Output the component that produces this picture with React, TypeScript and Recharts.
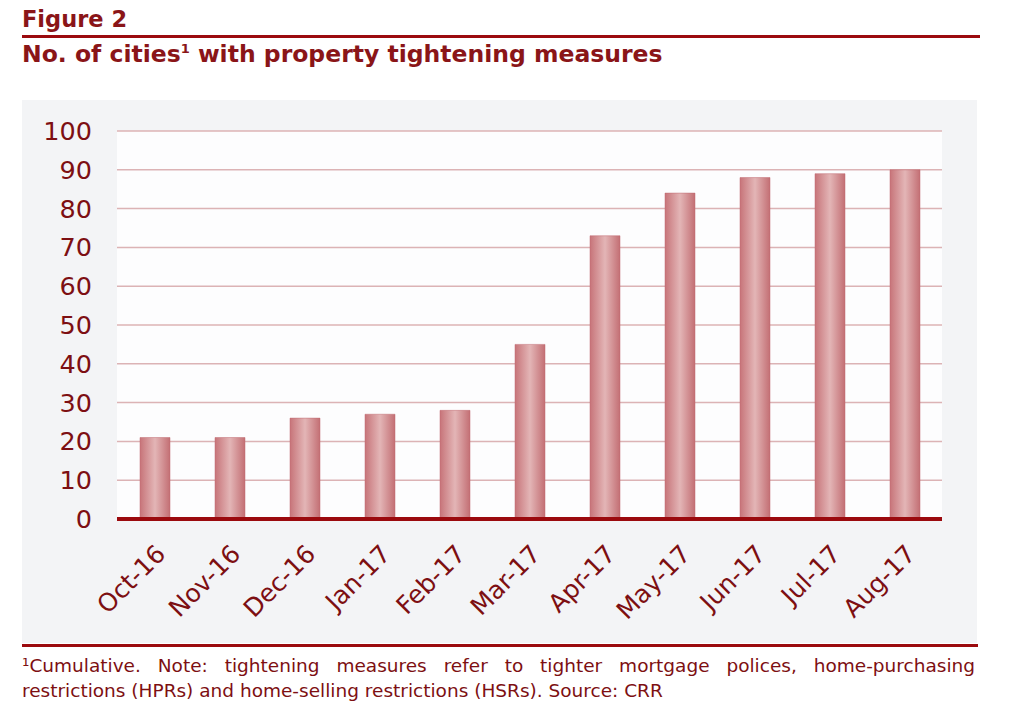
import { BarChart, Bar, XAxis, YAxis, CartesianGrid, ReferenceLine } from 'recharts';

const MONTHS = ['Oct-16', 'Nov-16', 'Dec-16', 'Jan-17', 'Feb-17', 'Mar-17', 'Apr-17', 'May-17', 'Jun-17', 'Jul-17', 'Aug-17'];
const CITIES = [21, 21, 26, 27, 28, 45, 73, 84, 88, 89, 90];
const Y_TICKS = [0, 10, 20, 30, 40, 50, 60, 70, 80, 90, 100];

const RED = '#7d0f12';
const LINE = '#9b0a0e';
const FONT = 'DejaVu Sans, Verdana, sans-serif';

const data = MONTHS.map((m, i) => ({ month: m, value: CITIES[i] }));

export default function App() {
  return (
    <div
      style={{
        position: 'absolute',
        left: 0,
        top: 0,
        width: 1023,
        height: 723,
        background: '#fff',
        fontFamily: FONT,
        color: RED,
      }}
    >
      <div style={{ position: 'absolute', left: 22, top: 6, fontSize: 22.5, fontWeight: 'bold', color: '#8a1518', lineHeight: '27px' }}>Figure 2</div>
      <div style={{ position: 'absolute', left: 22, top: 35, width: 958, height: 3, background: LINE }} />
      <div style={{ position: 'absolute', left: 22, top: 40, fontSize: 23.5, fontWeight: 'bold', color: '#8a1518', whiteSpace: 'nowrap', lineHeight: '28px' }}>
        No. of cities<span style={{ fontSize: 13, position: 'relative', top: -9 }}>1</span> with property tightening measures
      </div>

      <div style={{ position: 'absolute', left: 22, top: 100, width: 955, height: 543, background: '#f3f4f6' }}>
        <BarChart
          width={955}
          height={543}
          data={data}
          margin={{ top: 31, right: 35, bottom: 0, left: 0 }}
          barSize={30}
        >
          <defs>
            <linearGradient id="barGrad" x1="0" y1="0" x2="1" y2="0">
              <stop offset="0%" stopColor="#c77479" />
              <stop offset="50%" stopColor="#e3b5b6" />
              <stop offset="100%" stopColor="#c36f74" />
            </linearGradient>
          </defs>
          <CartesianGrid vertical={false} stroke="#dcb3b5" strokeWidth={1.5} fill="#fdfdfe" />
          <XAxis
            dataKey="month"
            axisLine={false}
            tickLine={false}
            interval={0}
            height={124}
            angle={-45}
            textAnchor="end"
            tickMargin={18}
            tick={{ fill: RED, fontSize: 25, fontFamily: FONT }}
          />
          <YAxis
            domain={[0, 100]}
            ticks={Y_TICKS}
            axisLine={false}
            tickLine={false}
            width={95}
            tickSize={8}
            tickMargin={17}
            interval={0}
            tick={{ fill: RED, fontSize: 25.5, fontFamily: FONT }}
          />
          <Bar dataKey="value" fill="url(#barGrad)" stroke="#c06a70" strokeWidth={0.5} isAnimationActive={false} />
          <ReferenceLine y={0} stroke={LINE} strokeWidth={4} />
        </BarChart>
      </div>

      <div style={{ position: 'absolute', left: 22, top: 644, width: 956, height: 3, background: LINE }} />
      <div
        style={{
          position: 'absolute',
          left: 22,
          top: 653,
          width: 953,
          fontFamily: FONT,
          fontSize: 18.5,
          lineHeight: '25px',
          textAlign: 'justify',
          textAlignLast: 'left',
          color: RED,
        }}
      >
        ¹Cumulative. Note: tightening measures refer to tighter mortgage polices, home-purchasing restrictions (HPRs) and home-selling restrictions (HSRs). Source: CRR
      </div>
    </div>
  );
}
